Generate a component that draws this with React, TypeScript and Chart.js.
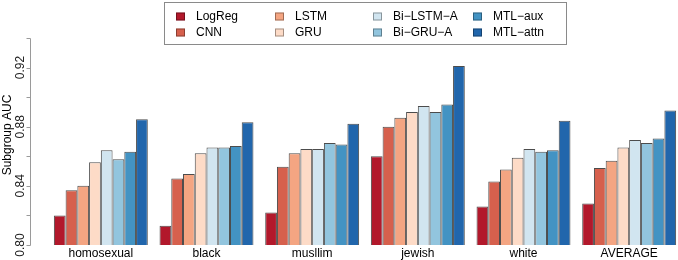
import React, { useEffect, useRef } from "react";
import { Chart, registerables } from "chart.js";

Chart.register(...registerables);

const categories = ["homosexual", "black", "musllim", "jewish", "white", "AVERAGE"];

const seriesNames = ["LogReg", "CNN", "LSTM", "GRU", "Bi\u2212LSTM\u2212A", "Bi\u2212GRU\u2212A", "MTL\u2212aux", "MTL\u2212attn"];
const seriesColors = ["#B2182B", "#D6604D", "#F4A582", "#FDDBC7", "#D1E5F0", "#92C5DE", "#4393C3", "#2166AC"];

const logReg = [0.820, 0.813, 0.822, 0.860, 0.826, 0.828];
const cnn = [0.837, 0.845, 0.853, 0.880, 0.843, 0.852];
const lstm = [0.840, 0.848, 0.862, 0.886, 0.851, 0.857];
const gru = [0.856, 0.862, 0.865, 0.890, 0.859, 0.866];
const biLstmA = [0.864, 0.866, 0.865, 0.894, 0.865, 0.871];
const biGruA = [0.858, 0.866, 0.869, 0.890, 0.863, 0.869];
const mtlAux = [0.863, 0.867, 0.868, 0.895, 0.864, 0.872];
const mtlAttn = [0.885, 0.883, 0.882, 0.921, 0.884, 0.891];

const seriesValues = [logReg, cnn, lstm, gru, biLstmA, biGruA, mtlAux, mtlAttn];

const yMin = 0.80;
const yMax = 0.94;
const yTicks = [0.80, 0.82, 0.84, 0.86, 0.88, 0.90, 0.92, 0.94];
const yTickLabels = ["0.80", "", "0.84", "", "0.88", "", "0.92", ""];
const yTitle = "Subgroup AUC";

const FONT = "'Liberation Sans', Arial, Helvetica, sans-serif";

const rAxisPlugin = {
  id: "rAxis",
  afterDraw(chart: any) {
    const ctx = chart.ctx;
    const y = chart.scales.y;
    const x0 = 30.5;
    ctx.save();
    ctx.strokeStyle = "#9a9a9a";
    ctx.lineWidth = 1;
    ctx.beginPath();
    ctx.moveTo(x0, Math.round(y.getPixelForValue(yMin)) + 0.5);
    ctx.lineTo(x0, Math.round(y.getPixelForValue(yMax)) + 0.5);
    yTicks.forEach((v) => {
      const py = Math.round(y.getPixelForValue(v)) + 0.5;
      ctx.moveTo(x0, py);
      ctx.lineTo(x0 - 4, py);
    });
    ctx.stroke();
    ctx.fillStyle = "#222";
    ctx.font = `12px ${FONT}`;
    ctx.textAlign = "center";
    ctx.textBaseline = "middle";
    yTicks.forEach((v, i) => {
      const lbl = yTickLabels[i];
      if (!lbl) return;
      const py = y.getPixelForValue(v);
      ctx.save();
      ctx.translate(21, py);
      ctx.rotate(-Math.PI / 2);
      ctx.fillText(lbl, 0, 0);
      ctx.restore();
    });
    ctx.save();
    ctx.translate(8, 135);
    ctx.rotate(-Math.PI / 2);
    ctx.fillStyle = "#000";
    ctx.fillText(yTitle, 0, 0);
    ctx.restore();
    ctx.restore();
  },
};

const legendPlugin = {
  id: "boxLegend",
  afterDraw(chart: any) {
    const ctx = chart.ctx;
    ctx.save();
    ctx.strokeStyle = "#8a8a8a";
    ctx.lineWidth = 1;
    ctx.strokeRect(164.5, 2.5, 402, 42);
    const colX = [176, 275, 373, 473];
    const rowY = [16.5, 32.5];
    ctx.font = `12px ${FONT}`;
    ctx.textBaseline = "middle";
    ctx.textAlign = "left";
    chart.data.datasets.forEach((ds: any, i: number) => {
      const cx = colX[Math.floor(i / 2)];
      const cy = rowY[i % 2];
      ctx.fillStyle = ds.backgroundColor;
      ctx.fillRect(cx, cy - 4, 9, 8);
      ctx.strokeStyle = "rgba(0,0,0,0.35)";
      ctx.strokeRect(cx + 0.5, cy - 3.5, 8, 7);
      ctx.fillStyle = "#000";
      ctx.fillText(ds.label, cx + 20, cy + 0.5);
    });
    ctx.restore();
  },
};

export default function App() {
  const ref = useRef<HTMLCanvasElement | null>(null);
  useEffect(() => {
    if (!ref.current) return;
    const chart = new Chart(ref.current, {
      type: "bar",
      data: {
        labels: categories,
        datasets: seriesNames.map((name, i) => ({
          label: name,
          data: seriesValues[i],
          backgroundColor: seriesColors[i],
          borderColor: "rgba(45,45,45,0.85)",
          borderWidth: 1,
          borderSkipped: false,
          categoryPercentage: 8 / 9,
          barPercentage: 1,
        })),
      },
      options: {
        animation: false,
        responsive: false,
        devicePixelRatio: 1,
        layout: { padding: { left: 48, right: 2, top: 38, bottom: 0 } },
        plugins: { legend: { display: false }, tooltip: { enabled: false } },
        scales: {
          x: {
            grid: { display: false, drawTicks: false },
            border: { display: false },
            ticks: { color: "#000", font: { size: 12, family: FONT }, padding: 1, maxRotation: 0, autoSkip: false },
            afterFit: (s: any) => {
              s.height = 15;
            },
          },
          y: {
            display: false,
            min: yMin,
            max: yMax,
          },
        },
      },
      plugins: [rAxisPlugin, legendPlugin],
    });
    return () => chart.destroy();
  }, []);
  return (
    <div style={{ position: "fixed", left: 0, top: 0, width: 678, height: 260, overflow: "hidden", background: "#fff" }}>
      <canvas ref={ref} width={684} height={260} style={{ display: "block", width: 684, height: 260 }} />
    </div>
  );
}
